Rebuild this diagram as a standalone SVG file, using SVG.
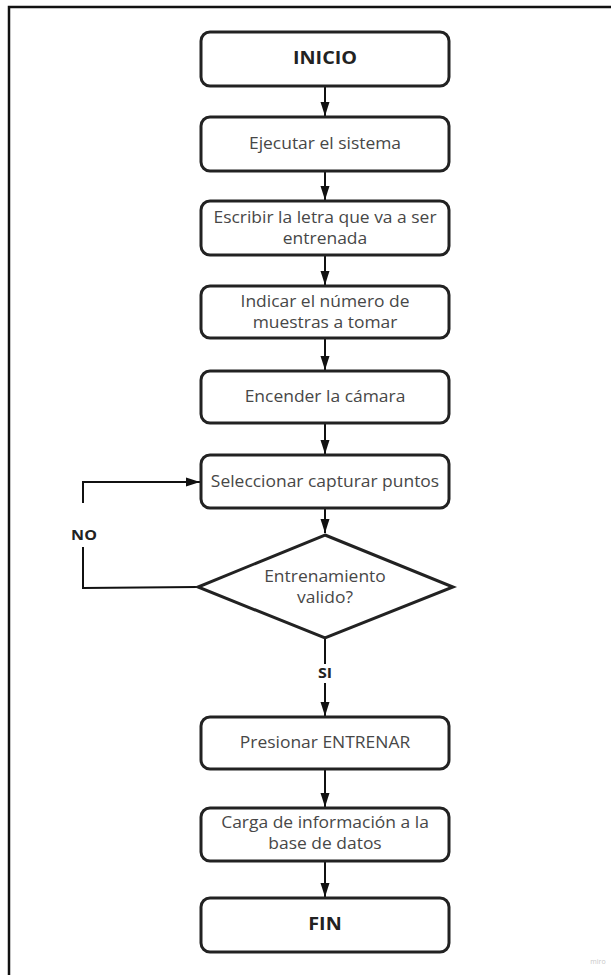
<svg xmlns="http://www.w3.org/2000/svg" width="611" height="975" viewBox="0 0 611 975">
<style>
.box{fill:#fff;stroke:#222;stroke-width:3}
.t{font-family:"Open Sans","Liberation Sans",sans-serif;font-size:16.3px;fill:#474747;text-anchor:middle}
.b{font-family:"Open Sans","Liberation Sans",sans-serif;font-size:18.5px;font-weight:bold;fill:#222;text-anchor:middle}
.lbl{font-family:"Open Sans","Liberation Sans",sans-serif;font-size:15px;font-weight:bold;fill:#222;text-anchor:middle}
.c{fill:none;stroke:#111;stroke-width:2}
</style>
<defs>
<marker id="ah" viewBox="0 0 14 10" refX="14" refY="5" markerWidth="14" markerHeight="10" orient="auto" markerUnits="userSpaceOnUse">
<path d="M0,0.5 L14,5 L0,9.5 z" fill="#111"/>
</marker>
</defs>
<rect x="0" y="0" width="611" height="975" fill="#fff"/>
<path d="M9,976 L9,7 L612,7" fill="none" stroke="#111" stroke-width="2.5"/>

<g id="connectors">
<path class="c" d="M325,87 V116" marker-end="url(#ah)"/>
<path class="c" d="M325,172 V200" marker-end="url(#ah)"/>
<path class="c" d="M325,256 V285" marker-end="url(#ah)"/>
<path class="c" d="M325,339 V370" marker-end="url(#ah)"/>
<path class="c" d="M325,424 V454" marker-end="url(#ah)"/>
<path class="c" d="M325,509 V533" marker-end="url(#ah)"/>
<path class="c" d="M325,639 V664"/>
<path class="c" d="M325,683 V716" marker-end="url(#ah)"/>
<path class="c" d="M325,770 V807" marker-end="url(#ah)"/>
<path class="c" d="M325,862 V897" marker-end="url(#ah)"/>
<path class="c" d="M198,587 L83,588 V547"/>
<path class="c" d="M83,503 V482 H200" marker-end="url(#ah)"/>
<g transform="translate(84,0) scale(1.07,1)"><text class="lbl" x="0" y="540.5">NO</text></g>
<g transform="translate(325,0) scale(1.07,1)"><text class="lbl" x="0" y="678.5">SI</text></g>
</g>

<g id="inicio">
<rect class="box" x="201" y="32" width="248" height="54" rx="9"/>
<g transform="translate(325,0) scale(1.07,1)"><text class="b" x="0" y="64">INICIO</text></g>
</g>
<g id="ejecutar">
<rect class="box" x="201" y="117" width="248" height="54" rx="9"/>
<g transform="translate(325,0) scale(1.07,1)"><text class="t" x="0" y="149">Ejecutar el sistema</text></g>
</g>
<g id="escribir">
<rect class="box" x="201" y="201" width="248" height="54" rx="9"/>
<g transform="translate(325,0) scale(1.07,1)">
<text class="t" x="0" y="223">Escribir la letra que va a ser</text>
<text class="t" x="0" y="244">entrenada</text>
</g>
</g>
<g id="indicar">
<rect class="box" x="201" y="286" width="248" height="52" rx="9"/>
<g transform="translate(325,0) scale(1.07,1)">
<text class="t" x="0" y="307">Indicar el número de</text>
<text class="t" x="0" y="328">muestras a tomar</text>
</g>
</g>
<g id="encender">
<rect class="box" x="201" y="371" width="248" height="52" rx="9"/>
<g transform="translate(325,0) scale(1.07,1)"><text class="t" x="0" y="402">Encender la cámara</text></g>
</g>
<g id="seleccionar">
<rect class="box" x="201" y="455" width="248" height="53" rx="9"/>
<g transform="translate(325,0) scale(1.07,1)"><text class="t" x="0" y="487">Seleccionar capturar puntos</text></g>
</g>
<g id="decision">
<polygon class="box" points="325,535 453,587 325,638 198,587"/>
<g transform="translate(325,0) scale(1.07,1)">
<text class="t" x="0" y="582">Entrenamiento</text>
<text class="t" x="0" y="603">valido?</text>
</g>
</g>
<g id="presionar">
<rect class="box" x="201" y="717" width="248" height="52" rx="9"/>
<g transform="translate(325,0) scale(1.07,1)"><text class="t" x="0" y="748">Presionar ENTRENAR</text></g>
</g>
<g id="carga">
<rect class="box" x="201" y="808" width="248" height="53" rx="9"/>
<g transform="translate(325,0) scale(1.07,1)">
<text class="t" x="0" y="828">Carga de información a la</text>
<text class="t" x="0" y="849">base de datos</text>
</g>
</g>
<g id="fin">
<rect class="box" x="201" y="898" width="248" height="54" rx="9"/>
<g transform="translate(325,0) scale(1.07,1)"><text class="b" x="0" y="930">FIN</text></g>
</g>
<text x="598" y="964" font-family="'Open Sans','Liberation Sans',sans-serif" font-size="7px" fill="#c8c8c8" text-anchor="middle">miro</text>
</svg>
